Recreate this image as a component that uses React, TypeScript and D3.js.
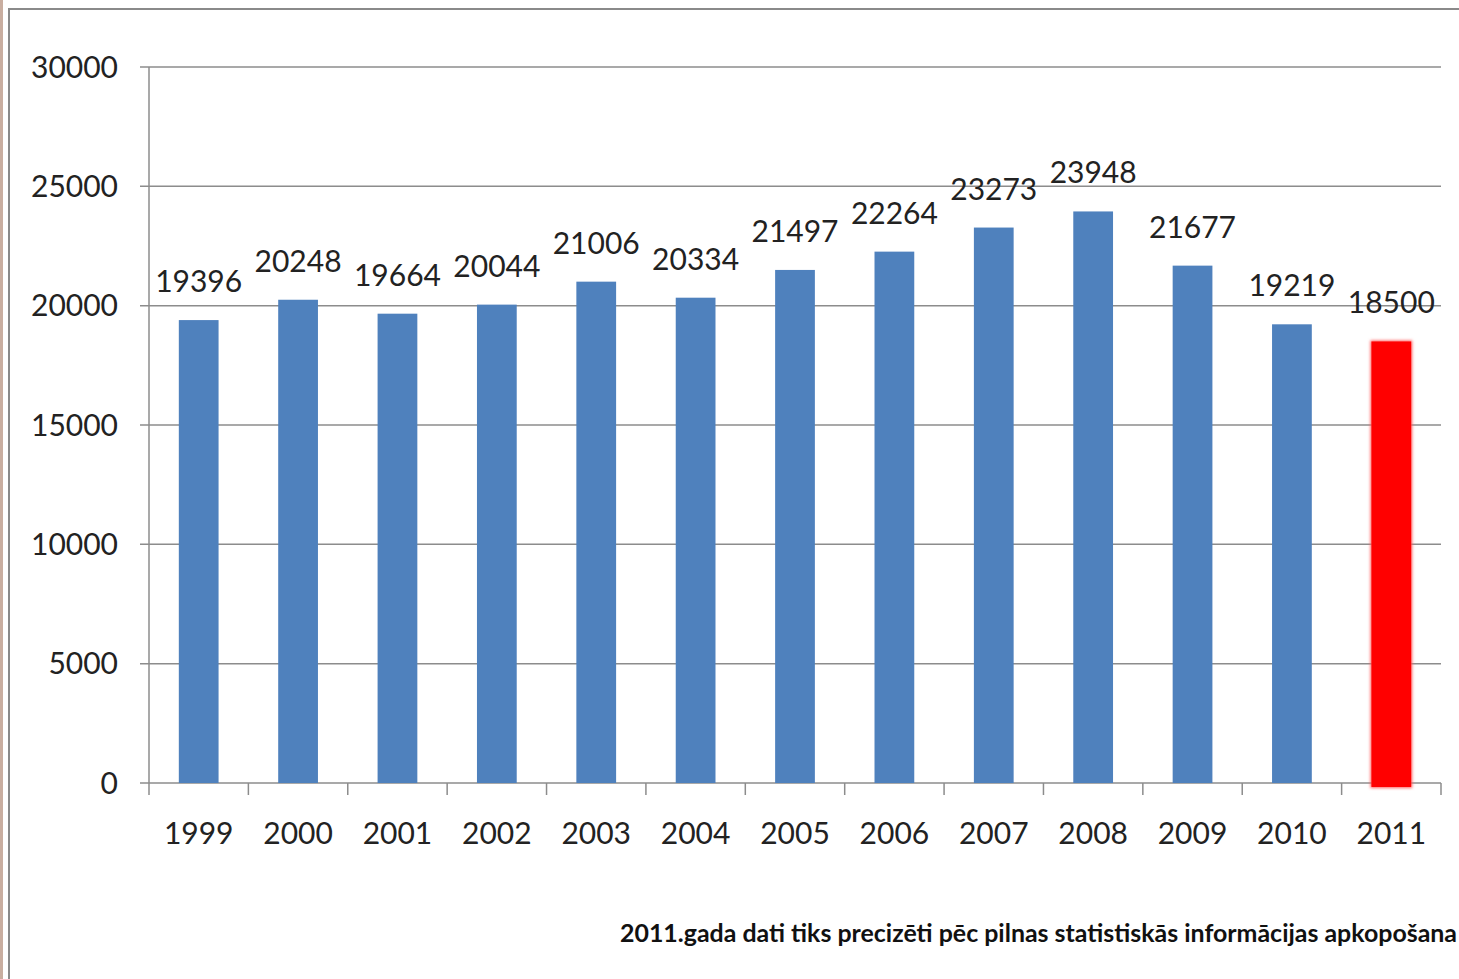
import React from "react";
import * as d3 from "d3";

const years = ["1999","2000","2001","2002","2003","2004","2005","2006","2007","2008","2009","2010","2011"];
const values = [19396,20248,19664,20044,21006,20334,21497,22264,23273,23948,21677,19219,18500];
const yTicks = [0,5000,10000,15000,20000,25000,30000];
const footnote = "2011.gada dati tiks precizēti pēc pilnas statistiskās informācijas apkopošana";

export default function App() {
  const W = 1459, H = 979;
  const left = 149, right = 1441, top = 67, bottom = 783;
  const x = d3.scaleBand<string>().domain(years).range([left, right]).paddingInner(0.6).paddingOuter(0.3);
  const xo = d3.scaleBand<string>().domain(years).range([left, right]);
  const y = d3.scaleLinear().domain([0, 30000]).range([bottom, top]);
  const font = "Lato, 'Open Sans', sans-serif";
  return (
    <svg width={W} height={H} style={{ position: "absolute", left: 0, top: 0, background: "#fff" }}>
      <defs>
        <filter id="glow" x="-30%" y="-10%" width="160%" height="120%">
          <feGaussianBlur stdDeviation="1.6" />
        </filter>
      </defs>
      <rect x={0} y={0} width={W} height={H} fill="#fff" />
      <rect x={0} y={0} width={3} height={H} fill="#c9aea0" />
      <line x1={9} y1={8} x2={9} y2={H} stroke="#8a8a8a" strokeWidth={2} />
      <line x1={8} y1={9} x2={W} y2={9} stroke="#8a8a8a" strokeWidth={2} />
      {yTicks.map(t => (
        <g key={t}>
          <line x1={140} x2={right} y1={y(t)} y2={y(t)} stroke="#8c8c8c" strokeWidth={1.5} />
          <text x={118} y={y(t)} dy="0.35em" textAnchor="end" fontFamily={font} fontSize={30} fill="#222">{t}</text>
        </g>
      ))}
      <line x1={left} x2={left} y1={top} y2={bottom} stroke="#8c8c8c" strokeWidth={1.5} />
      {years.map((yr, i) => (
        <line key={"t" + yr} x1={xo(yr)!} x2={xo(yr)!} y1={bottom} y2={bottom + 12} stroke="#8c8c8c" strokeWidth={1.5} />
      ))}
      <line x1={right} x2={right} y1={bottom} y2={bottom + 12} stroke="#8c8c8c" strokeWidth={1.5} />
      {years.map((yr, i) => {
        const last = i === years.length - 1;
        const bx = x(yr)!, bw = x.bandwidth();
        const by = y(values[i]);
        return (
          <g key={yr}>
            {last ? (
              <>
                <rect x={bx - 1} y={by - 1} width={bw + 2} height={bottom - by + 6} fill="#ff6060" filter="url(#glow)" />
                <rect x={bx} y={by} width={bw} height={bottom - by + 4} fill="#ff0000" />
              </>
            ) : (
              <rect x={bx} y={by} width={bw} height={bottom - by} fill="#4f81bd" />
            )}
            <text x={bx + bw / 2} y={by - 28} textAnchor="middle" fontFamily={font} fontSize={30} fill="#222">{values[i]}</text>
            <text x={bx + bw / 2} y={844} textAnchor="middle" fontFamily={font} fontSize={30} fill="#222">{yr}</text>
          </g>
        );
      })}
      <text x={1457} y={942} textAnchor="end" fontFamily={font} fontWeight="bold" fontSize={25} fill="#111"
        textLength={837} lengthAdjust="spacingAndGlyphs">{footnote}</text>
    </svg>
  );
}
